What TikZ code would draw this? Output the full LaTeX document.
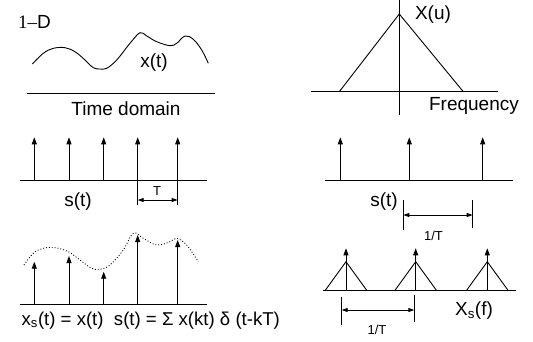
\documentclass[tikz,border=0pt]{standalone}
\usepackage{fontspec}
\setmainfont{Liberation Sans}
\newfontfamily\serifone{Liberation Serif}
\usetikzlibrary{arrows.meta}
\begin{document}
\begin{tikzpicture}[x=1pt,y=-1pt,
  ln/.style={line width=0.9pt},
  stem/.style={line width=0.9pt,-{Triangle[length=7pt,width=5pt]}},
  dim/.style={line width=0.9pt,{Triangle[length=6pt,width=4pt]}-{Triangle[length=6pt,width=4pt]}},
  lbl/.style={inner sep=0pt,font=\fontsize{19}{22}\selectfont},
  small/.style={inner sep=0pt,font=\fontsize{13}{15}\selectfont}]
\useasboundingbox (0,0) rectangle (533,341);

% ---------- top left: x(t)
\node[lbl,anchor=west] (oned) at (18,22) {{\serifone 1–}D};
\draw[ln] plot[smooth,tension=0.6] coordinates {(32.3,64) (43.3,53.3) (53.3,48.3) (65,47.7) (75,51.7) (85,60) (93.3,67.7) (100,69) (106.7,68.3) (116.7,60) (130,43.3) (140,32.7) (146.7,36) (156.7,41.7) (170,45.7) (176.7,43.3) (185,36) (193.3,39.3) (201.7,50) (208.3,63.3)};
\node[lbl] (xt) at (154,63) {x(t)};
\coordinate (tdL) at (27,93.3);
\coordinate (tdR) at (215,93.3);
\draw[ln] (tdL) -- (tdR);
\node[lbl] (td) at (126,108.5) {Time domain};

% ---------- top right: X(u)
\coordinate (vT) at (399.3,0);
\coordinate (vB) at (399.3,115);
\draw[ln] (vT) -- (vB);
\coordinate (hL) at (310.7,91.7);
\coordinate (hR) at (498,91.7);
\draw[ln] (hL) -- (hR);
\coordinate (apex) at (399.3,14);
\coordinate (bl) at (339.3,91.7);
\coordinate (br) at (463.3,91.7);
\draw[ln] (bl) -- (apex) -- (br);
\node[lbl] (Xu) at (433,14.5) {X(u)};
\node[lbl] (freq) at (474,106) {Frequency};

% ---------- middle left: s(t)
\coordinate (mlL) at (20,180.7);
\coordinate (mlR) at (207,180.7);
\draw[ln] (mlL) -- (mlR);
\foreach \i/\x in {1/34.3,2/69,3/103.7}{
  \coordinate (sb\i) at (\x,180.7);
  \coordinate (st\i) at (\x,137.3);
  \draw[stem] (sb\i) -- (st\i);
}
\foreach \i/\x in {4/137.7,5/177.7}{
  \coordinate (sb\i) at (\x,205);
  \coordinate (st\i) at (\x,137.3);
  \draw[stem] (sb\i) -- (st\i);
}
\coordinate (T1) at (137.7,200);
\coordinate (T2) at (177.7,200);
\draw[dim] (T1) -- (T2);
\node[small] (Tl) at (157,191.5) {T};
\node[lbl] (stl) at (78,202) {s(t)};

% ---------- middle right: s(t) spectrum
\coordinate (mrL) at (325,180.7);
\coordinate (mrR) at (513,180.7);
\draw[ln] (mrL) -- (mrR);
\foreach \i/\x in {1/340.3,2/409.3,3/482.7}{
  \coordinate (rb\i) at (\x,180.7);
  \coordinate (rt\i) at (\x,137.3);
  \draw[stem] (rb\i) -- (rt\i);
}
\node[lbl] (str) at (384,202) {s(t)};
\coordinate (k1a) at (403.3,200);
\coordinate (k1b) at (403.3,230);
\coordinate (k2a) at (472.7,200);
\coordinate (k2b) at (472.7,228);
\draw[ln] (k1a) -- (k1b);
\draw[ln] (k2a) -- (k2b);
\coordinate (d1) at (403.3,215);
\coordinate (d2) at (472.7,215);
\draw[dim] (d1) -- (d2);
\node[small] (invT1) at (433.5,236) {1/T};

% ---------- bottom left: sampled signal
\coordinate (blL) at (20,304);
\coordinate (blR) at (207,304);
\draw[ln] (blL) -- (blR);
\foreach \i/\x/\t in {1/34.3/261.7,2/69/256,3/103.7/271.7,4/137.7/235,5/177.7/240}{
  \coordinate (xb\i) at (\x,304);
  \coordinate (xt\i) at (\x,\t);
  \draw[stem] (xb\i) -- (xt\i);
}
\draw[line width=0.9pt,dotted] plot[smooth,tension=0.6] coordinates {(24,265) (33.3,253.3) (43.3,248.3) (55,247.7) (68.3,251.7) (80,260) (91.7,268.3) (100,269.3) (110,265) (123.3,250) (133.3,233.3) (143.3,238.3) (156.7,245) (170,241.7) (176.7,238.3) (186.7,245) (198.3,261.7)};
\node[lbl,font=\fontsize{18.6}{22}\selectfont,anchor=west] (eq) at (21.5,320.5) {x\textsubscript{s}(t) = x(t)\ \ s(t) = Σ x(kt) δ (t-kT)};

% ---------- bottom right: sampled spectrum
\coordinate (brL) at (323,290);
\coordinate (brR) at (516,290);
\draw[ln] (brL) -- (brR);
\foreach \i/\x in {1/346,2/415.7,3/487.3}{
  \coordinate (pb\i) at (\x,290);
  \coordinate (pt\i) at (\x,248.3);
  \coordinate (pa\i) at (\x,261.7);
  \coordinate (pl\i) at (\x-20.5,290);
  \coordinate (pr\i) at (\x+20.5,290);
  \draw[ln] (pl\i) -- (pa\i) -- (pr\i);
  \draw[stem] (pb\i) -- (pt\i);
}
\coordinate (q1a) at (341.7,296.7);
\coordinate (q1b) at (341.7,325);
\coordinate (q2a) at (414.3,295);
\coordinate (q2b) at (414.3,321.7);
\draw[ln] (q1a) -- (q1b);
\draw[ln] (q2a) -- (q2b);
\coordinate (e1) at (341.7,310);
\coordinate (e2) at (414.3,310);
\draw[dim] (e1) -- (e2);
\node[small] (invT2) at (377,330) {1/T};
\node[lbl] (Xsf) at (474,311) {X\textsubscript{s}(f)};
\end{tikzpicture}
\end{document}
